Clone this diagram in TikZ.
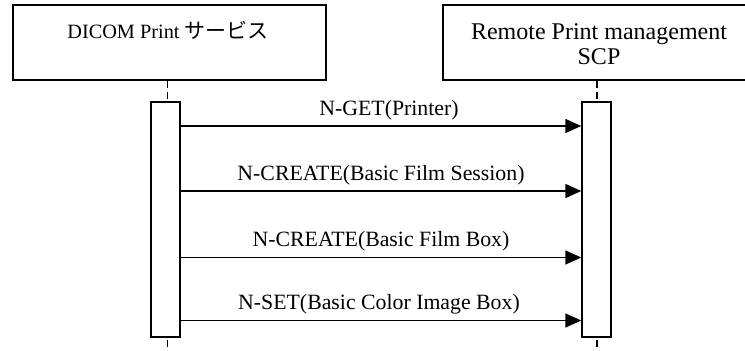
\documentclass[tikz,border=0pt]{standalone}
\usepackage{fontspec}
\setmainfont{Liberation Serif}
\newfontfamily\jfont{Noto Sans CJK JP}
\usetikzlibrary{arrows.meta}
\tikzset{
  hdr/.style={draw, line width=1.4pt, fill=white, inner sep=0pt},
  act/.style={draw, line width=1.4pt, fill=white, inner sep=0pt, minimum width=29pt, minimum height=235pt},
  life/.style={line width=1.2pt, dash pattern=on 7pt off 4pt},
  msg/.style={line width=1.5pt, -{Triangle[length=16pt,width=14pt]}},
  lbl/.style={font=\fontsize{21.8}{23}\selectfont, inner sep=0pt, anchor=base},
  htxt/.style={font=\fontsize{24}{25}\selectfont, inner sep=0pt, align=center}
}
\begin{document}
\begin{tikzpicture}[x=1pt,y=-1pt]
\useasboundingbox (0,0) rectangle (745,351);
\fill[white] (0,0) rectangle (745,351);
% header boxes
\node[hdr, minimum width=313pt, minimum height=75pt] (A) at (169.5,42.5) {};
\node[hdr, minimum width=303pt, minimum height=75pt] (B) at (594.5,42.5) {};
\node[htxt, font=\fontsize{20.3}{23}\selectfont, anchor=base] (At) at (168,38.5) {DICOM Print {\jfont\fontsize{21}{23}\selectfont サービス}};
\node[htxt, anchor=base] (Bt1) at (599,39.5) {Remote Print management};
\node[htxt, anchor=base] (Bt2) at (599,64.5) {SCP};
% activation boxes
\node[act] (L) at (165.5,219.5) {};
\node[act] (R) at (596.5,219.5) {};
% lifelines
\coordinate (lx) at (167.5,0);
\coordinate (rx) at (597,0);
\coordinate (bot) at (0,351);
\draw[life] (A.south -| lx) -- (L.north -| lx);
\draw[life] (B.south -| rx) -- (R.north -| rx);
\draw[life, dash phase=9pt] (L.south -| lx) -- (bot -| lx);
\draw[life, dash phase=9pt] (R.south -| rx) -- (bot -| rx);
% messages
\coordinate (m1) at (0,126);
\coordinate (m2) at (0,191);
\coordinate (m3) at (0,257.5);
\coordinate (m4) at (0,320.5);
\draw[msg] (L.east |- m1) -- (R.west |- m1) node[lbl, pos=0.52, yshift=11pt] (t1) {N-GET(Printer)};
\draw[msg] (L.east |- m2) -- (R.west |- m2) node[lbl, pos=0.5, yshift=11pt] (t2) {N-CREATE(Basic Film Session)};
\draw[msg] (L.east |- m3) -- (R.west |- m3) node[lbl, pos=0.5, yshift=11pt] (t3) {N-CREATE(Basic Film Box)};
\draw[msg] (L.east |- m4) -- (R.west |- m4) node[lbl, pos=0.495, yshift=11pt] (t4) {N-SET(Basic Color Image Box)};
\end{tikzpicture}
\end{document}
